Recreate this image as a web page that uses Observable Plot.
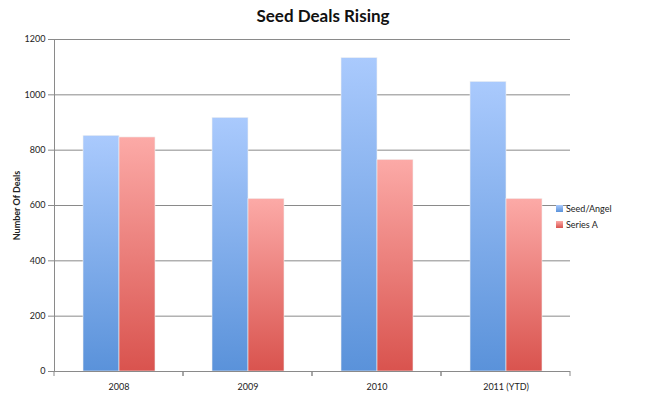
<!DOCTYPE html>
<html><head><meta charset="utf-8">
<script src="https://cdn.jsdelivr.net/npm/d3@7"></script>
<script src="https://cdn.jsdelivr.net/npm/@observablehq/plot@0.6"></script>
<style>
body{margin:0;background:#fff;}
#wrap{position:relative;width:646px;height:394px;font-family:Lato,"Open Sans",sans-serif;}
#title{position:absolute;left:0;width:646px;top:5px;text-align:center;font-weight:bold;font-size:17px;color:#111;}
#legend{position:absolute;left:556px;top:201px;font-size:9px;color:#222;line-height:16px;}
#legend .sw{display:inline-block;width:7px;height:7px;margin-right:3px;vertical-align:-0px;}
</style></head><body>
<div id="wrap"><div id="chart"></div><div id="title">Seed Deals Rising</div><div id="legend"></div></div>
<script>
const years = ["2008", "2009", "2010", "2011 (YTD)"];
const seriesNames = ["Seed/Angel", "Series A"];
const seedAngel = [852, 917, 1133, 1047];
const seriesA = [846, 624, 765, 624];
const yTicks = [0, 200, 400, 600, 800, 1000, 1200];
const gradients = {"Seed/Angel": ["#aacafd", "#5a92da"], "Series A": ["#fcaaa7", "#d9534e"]};

const data = years.flatMap((y, i) => [
  {year: y, series: seriesNames[0], value: seedAngel[i]},
  {year: y, series: seriesNames[1], value: seriesA[i]}
]);

const gid = s => "grad" + seriesNames.indexOf(s);

const boundaryTicks = (index, scales, values, dimensions) => {
  const g = d3.create("svg:g").attr("stroke", "#8a8a8a");
  const xr = scales.x && scales.x.range ? scales.x.range() : [dimensions.marginLeft, dimensions.width - dimensions.marginRight];
  const y0 = scales.y(0);
  for (const x of xr) {
    g.append("line").attr("x1", x).attr("x2", x).attr("y1", y0).attr("y2", y0 + 5);
  }
  return g.node();
};

const plot = Plot.plot({
  width: 646, height: 394,
  marginLeft: 53, marginRight: 75, marginTop: 39, marginBottom: 23,
  style: {fontFamily: "Lato, 'Open Sans', sans-serif", fontSize: "9px", color: "#222", background: "#fff"},
  fx: {domain: years, padding: 0, label: null},
  x: {domain: seriesNames, paddingInner: 0, paddingOuter: 0.75, axis: null},
  y: {domain: [0, 1200], label: null},
  marks: [
    Plot.gridY(yTicks, {stroke: "#8a8a8a", strokeOpacity: 1}),
    ...seriesNames.map(s => Plot.barY(data, {
      filter: d => d.series === s,
      fx: "year", x: "series", y: "value",
      fill: `url(#${gid(s)})`, stroke: "#f2f2f2", strokeWidth: 0.6
    })),
    Plot.ruleY([0], {stroke: "#8a8a8a"}),
    Plot.frame({anchor: "left", facetAnchor: "left", stroke: "#8a8a8a"}),
    Plot.axisY({ticks: yTicks, tickFormat: d3.format("d"), tickSize: 6, tickPadding: 3, stroke: "#8a8a8a",
      label: "Number Of Deals", labelAnchor: "center", labelOffset: 41, labelArrow: false}),
    Plot.axisFx({anchor: "bottom", tickSize: 0, tickPadding: 12, label: null}),
    boundaryTicks
  ]
});

const defs = d3.select(plot).insert("defs", ":first-child");
for (const s of seriesNames) {
  const lg = defs.append("linearGradient").attr("id", gid(s)).attr("x1", 0).attr("y1", 0).attr("x2", 0).attr("y2", 1);
  lg.append("stop").attr("offset", "0%").attr("stop-color", gradients[s][0]);
  lg.append("stop").attr("offset", "100%").attr("stop-color", gradients[s][1]);
}
// bold axis label
d3.select(plot).selectAll("text").filter(function() { return this.textContent === "Number Of Deals"; })
  .attr("font-weight", "bold");

document.getElementById("chart").appendChild(plot);

const legend = d3.select("#legend");
for (const s of seriesNames) {
  const row = legend.append("div");
  row.append("span").attr("class", "sw").style("background", `linear-gradient(${gradients[s][0]}, ${gradients[s][1]})`);
  row.append("span").text(s);
}
</script>
</body></html>
